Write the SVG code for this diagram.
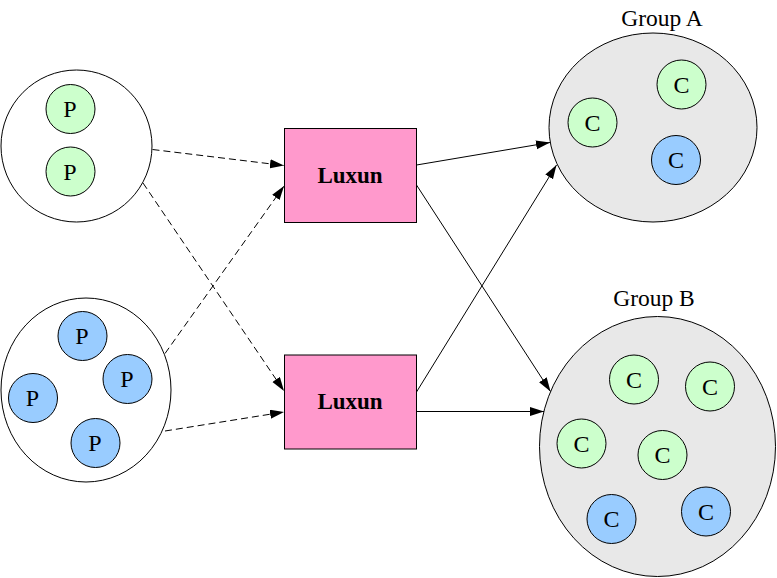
<svg xmlns="http://www.w3.org/2000/svg" width="777" height="578" viewBox="0 0 777 578">
<style>
.grp{fill:#ffffff;stroke:#000;stroke-width:1}
.grpg{fill:#e8e8e8;stroke:#000;stroke-width:1}
.g{fill:#ccffcc;stroke:#000;stroke-width:1}
.b{fill:#99ccff;stroke:#000;stroke-width:1}
.box{fill:#ff99cc;stroke:#000;stroke-width:1}
.t{font-family:"Liberation Serif","Times New Roman",serif;font-size:24px;fill:#000;text-anchor:middle}
.lbl{font-family:"Liberation Serif","Times New Roman",serif;font-size:23.5px;fill:#000;text-anchor:middle}
.bold{font-family:"Liberation Serif","Times New Roman",serif;font-size:23px;font-weight:bold;fill:#000;text-anchor:middle}
.d{stroke:#000;stroke-width:1;fill:none;stroke-dasharray:7,4;marker-end:url(#ah)}
.s{stroke:#000;stroke-width:1;fill:none;marker-end:url(#ah)}
</style>
<defs>
<marker id="ah" markerUnits="userSpaceOnUse" markerWidth="16" markerHeight="10" refX="14" refY="4.5" orient="auto" viewBox="0 0 16 10">
<path d="M0,0 L14,4.5 L0,9 Z" fill="#000"/>
</marker>
</defs>
<g id="producers1">
<ellipse class="grp" cx="76.5" cy="146" rx="75.5" ry="76"/>
<circle class="g" cx="70.5" cy="109" r="24.5"/><text class="t" x="70" y="117">P</text>
<circle class="g" cx="70.5" cy="171.5" r="24.5"/><text class="t" x="70" y="179.5">P</text>
</g>
<g id="producers2">
<ellipse class="grp" cx="86" cy="390" rx="85" ry="92"/>
<circle class="b" cx="82.5" cy="336" r="24.5"/><text class="t" x="82" y="344">P</text>
<circle class="b" cx="127.5" cy="379" r="24.5"/><text class="t" x="127" y="387">P</text>
<circle class="b" cx="33" cy="398" r="24.5"/><text class="t" x="32.5" y="406">P</text>
<circle class="b" cx="95.5" cy="443" r="24.5"/><text class="t" x="95" y="451">P</text>
</g>
<g id="luxun1">
<rect class="box" x="284.5" y="128.5" width="132" height="94"/>
<text class="bold" x="350" y="182.5">Luxun</text>
</g>
<g id="luxun2">
<rect class="box" x="284.5" y="355" width="132" height="94"/>
<text class="bold" x="350" y="409">Luxun</text>
</g>
<g id="groupA">
<text class="lbl" x="662" y="26">Group A</text>
<ellipse class="grpg" cx="653" cy="127.5" rx="104" ry="94.5"/>
<circle class="g" cx="681.5" cy="84.5" r="24.5"/><text class="t" x="681.5" y="92.5">C</text>
<circle class="g" cx="592.5" cy="122.5" r="24.5"/><text class="t" x="592.5" y="130.5">C</text>
<circle class="b" cx="676" cy="160" r="24.5"/><text class="t" x="676" y="168">C</text>
</g>
<g id="groupB">
<text class="lbl" x="654" y="306">Group B</text>
<ellipse class="grpg" cx="657.5" cy="446.5" rx="118" ry="130"/>
<circle class="g" cx="634" cy="379.5" r="24.5"/><text class="t" x="634" y="387.5">C</text>
<circle class="g" cx="710" cy="386.5" r="24.5"/><text class="t" x="710" y="394.5">C</text>
<circle class="g" cx="581.5" cy="443.5" r="24.5"/><text class="t" x="581.5" y="451.5">C</text>
<circle class="g" cx="662.5" cy="455" r="24.5"/><text class="t" x="662.5" y="463">C</text>
<circle class="b" cx="611.5" cy="519" r="24.5"/><text class="t" x="611.5" y="527">C</text>
<circle class="b" cx="706" cy="511.5" r="24.5"/><text class="t" x="706" y="519.5">C</text>
</g>
<g id="connectors">
<line class="d" x1="152.5" y1="149.5" x2="284" y2="165.5"/>
<line class="d" x1="143" y1="183" x2="284" y2="391"/>
<line class="d" x1="165" y1="353.5" x2="284" y2="186"/>
<line class="d" x1="165" y1="431" x2="284" y2="412"/>
<line class="s" x1="416.5" y1="165" x2="550" y2="142.5"/>
<line class="s" x1="416.5" y1="185" x2="550.5" y2="391.5"/>
<line class="s" x1="416.5" y1="392" x2="556.5" y2="165"/>
<line class="s" x1="416.5" y1="411.5" x2="544" y2="411.5"/>
</g>
</svg>
